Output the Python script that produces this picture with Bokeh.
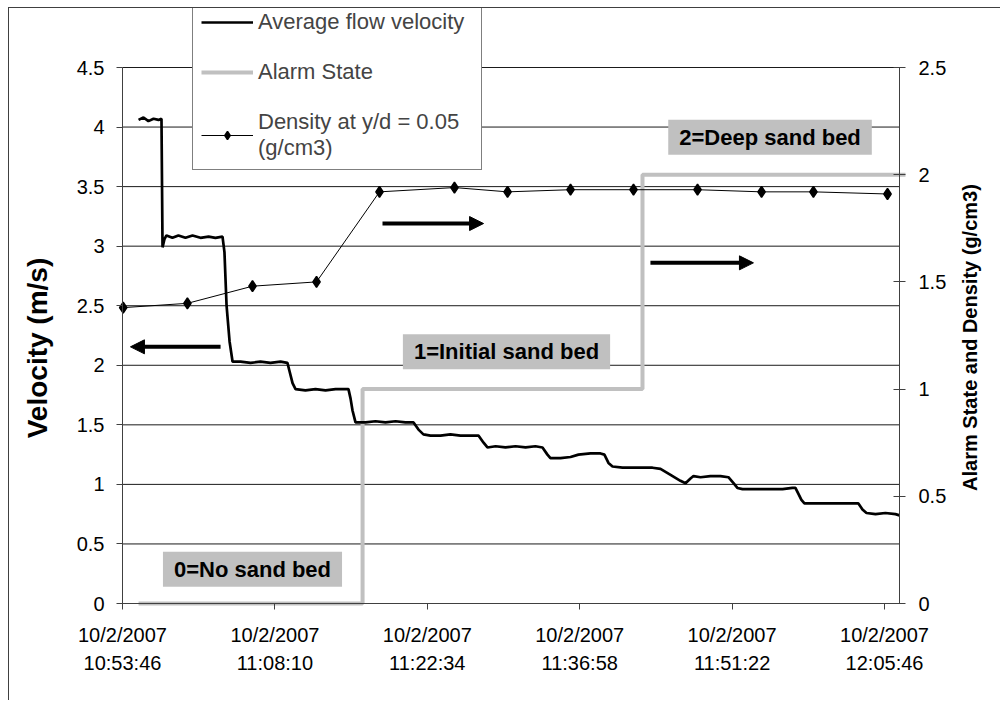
import math
from bokeh.plotting import figure
from bokeh.models import (Range1d, LinearAxis, FixedTicker, Legend, LegendItem,
                          Label, Arrow, NormalHead)
from bokeh.core.properties import value
from bokeh.embed import file_html
from bokeh.resources import INLINE

FONT = "Liberation Sans"

# x values: elapsed seconds since 10/2/2007 10:53:46
tick_seconds = [0, 864, 1728, 2592, 3456, 4320]
tick_labels = ["10/2/2007\n10:53:46", "10/2/2007\n11:08:10", "10/2/2007\n11:22:34",
               "10/2/2007\n11:36:58", "10/2/2007\n11:51:22", "10/2/2007\n12:05:46"]
x_axis_end = 4405

left_ticks = [0, 0.5, 1, 1.5, 2, 2.5, 3, 3.5, 4, 4.5]
left_labels = ["0", "0.5", "1", "1.5", "2", "2.5", "3", "3.5", "4", "4.5"]
right_ticks = [0, 0.5, 1, 1.5, 2, 2.5]
right_labels = ["0", "0.5", "1", "1.5", "2", "2.5"]

vel_t = [91, 119, 147, 176, 204, 221,
         227, 238, 249, 283, 317, 357, 397, 442, 488, 527, 567,
         578, 590, 607, 624,
         669, 726, 782, 839, 896, 935,
         947, 964, 981,
         1037, 1094, 1151, 1208, 1264, 1281,
         1293, 1304, 1321,
         1378, 1434, 1491, 1548, 1604, 1650,
         1678, 1706, 1746,
         1803, 1859, 1916, 1973, 2018,
         2047, 2069,
         2115, 2171, 2228, 2285, 2341, 2381,
         2409, 2426,
         2483, 2540, 2585, 2653, 2710, 2732,
         2755, 2778,
         2835, 2891, 2948, 3005, 3050,
         3107, 3163, 3192, 3220, 3237,
         3277, 3333, 3390, 3435,
         3464, 3486, 3515,
         3571, 3628, 3685, 3742, 3798, 3815,
         3832, 3849, 3866,
         3929, 3985, 4042, 4099, 4172,
         4195, 4218,
         4269, 4325, 4382, 4405]
vel_v = [4.06, 4.08, 4.05, 4.07, 4.06, 4.07,
         2.99, 3.06, 3.09, 3.07, 3.09, 3.07, 3.09, 3.07, 3.08, 3.07, 3.08,
         2.95, 2.50, 2.20, 2.03,
         2.03, 2.02, 2.03, 2.02, 2.03, 2.02,
         1.95, 1.85, 1.80,
         1.79, 1.80, 1.79, 1.80, 1.80, 1.80,
         1.72, 1.62, 1.52,
         1.52, 1.53, 1.52, 1.53, 1.52, 1.52,
         1.46, 1.42, 1.41,
         1.41, 1.42, 1.41, 1.41, 1.41,
         1.35, 1.31,
         1.32, 1.31, 1.32, 1.31, 1.32, 1.31,
         1.25, 1.22,
         1.22, 1.23, 1.25, 1.26, 1.26, 1.25,
         1.18, 1.15,
         1.14, 1.14, 1.14, 1.14, 1.13,
         1.08, 1.03, 1.01, 1.05, 1.07,
         1.06, 1.07, 1.07, 1.06,
         1.01, 0.97, 0.96,
         0.96, 0.96, 0.96, 0.96, 0.97, 0.97,
         0.92, 0.87, 0.84,
         0.84, 0.84, 0.84, 0.84, 0.84,
         0.79, 0.76,
         0.75, 0.76, 0.75, 0.74]

alarm_t = [91, 1361, 2948, 4439]
alarm_v = [0, 1, 2, 2]

dens_t = [4, 368, 737, 1100, 1457, 1882, 2183, 2540, 2897, 3260, 3623, 3917, 4337]
dens_v = [1.38, 1.40, 1.48, 1.50, 1.92, 1.94, 1.92, 1.93, 1.93, 1.93, 1.92, 1.92, 1.91]

state_labels = ["0=No sand bed", "1=Initial sand bed", "2=Deep sand bed"]
state_label_pos = [(737, 0.287), (2177, 2.114), (3671, 3.914)]
arrows = [(556, 2.155, 45, 2.155), (1474, 3.19, 2047, 3.19), (2993, 2.86, 3577, 2.86)]

left_title = "Velocity (m/s)"
right_title = "Alarm State and Density (g/cm3)"
left_title_pos = (-482, 2.145)
right_title_pos = (4802, 2.233)

AX = "#404040"

# layout geometry (pixels); the whole canvas is the plotting frame
W, H = 992, 693
AXIS_LEFT_PX = 113          # left axis distance from canvas left
AXIS_W_PX = 777             # width between left and right axes
AXIS_BOTTOM_PX = 595        # x axis distance from canvas top
PLOT_H_PX = 536             # height of the 0..4.5 span
sec_per_px = x_axis_end / AXIS_W_PX
x0 = -AXIS_LEFT_PX * sec_per_px
x1 = x0 + W * sec_per_px
px_left = PLOT_H_PX / 4.5
px_right = PLOT_H_PX / 2.5
yl0, yl1 = -(H - AXIS_BOTTOM_PX) / px_left, AXIS_BOTTOM_PX / px_left
yr0, yr1 = -(H - AXIS_BOTTOM_PX) / px_right, AXIS_BOTTOM_PX / px_right

p = figure(width=W, height=H, output_backend="svg", toolbar_location=None,
           x_range=Range1d(x0, x1), y_range=Range1d(yl0, yl1),
           min_border_left=0, min_border_right=0, min_border_top=0, min_border_bottom=0,
           background_fill_color="white", border_fill_color="white",
           outline_line_color=None)
p.styles = {"margin-left": "8px", "margin-top": "7px",
            "border-left": "1px solid #404040", "border-top": "1px solid #404040"}
p.extra_y_ranges = {"right": Range1d(yr0, yr1)}
p.xgrid.grid_line_color = None
p.ygrid.grid_line_color = None
p.xaxis.visible = False
p.yaxis.visible = False

# x axis at y = 0
xa = LinearAxis(fixed_location=0, bounds=(0, x_axis_end), ticker=FixedTicker(ticks=tick_seconds))
xa.major_label_overrides = dict(zip(tick_seconds, tick_labels))
xa.major_tick_out = 6
xa.major_tick_in = 0
xa.minor_tick_line_color = None
xa.axis_line_color = AX
xa.major_tick_line_color = AX
xa.major_label_text_font = FONT
xa.major_label_text_font_size = "20px"
xa.major_label_text_color = "black"
xa.major_label_text_line_height = 1.3
xa.major_label_standoff = 14
p.add_layout(xa, "below")

# left axis at x = 0
la = LinearAxis(fixed_location=0, bounds=(0, 4.5), ticker=FixedTicker(ticks=left_ticks))
la.major_label_overrides = dict(zip(left_ticks, left_labels))
la.major_tick_out = 6
la.major_tick_in = 0
la.minor_tick_line_color = None
la.axis_line_color = AX
la.major_tick_line_color = AX
la.major_label_text_font = FONT
la.major_label_text_font_size = "20px"
la.major_label_text_color = "black"
la.major_label_standoff = 12
p.add_layout(la, "left")

# right axis at the end of the time axis
ra = LinearAxis(y_range_name="right", fixed_location=x_axis_end, bounds=(0, 2.5),
                ticker=FixedTicker(ticks=right_ticks))
ra.major_label_overrides = dict(zip(right_ticks, right_labels))
ra.major_tick_out = 6
ra.major_tick_in = 6
ra.minor_tick_line_color = None
ra.axis_line_color = AX
ra.major_tick_line_color = AX
ra.major_label_text_font = FONT
ra.major_label_text_font_size = "20px"
ra.major_label_text_color = "black"
ra.major_label_standoff = 13
p.add_layout(ra, "right")

# horizontal gridlines between the two axes
p.segment(x0=[0] * len(left_ticks), x1=[x_axis_end] * len(left_ticks),
          y0=left_ticks, y1=left_ticks, line_color="#1a1a1a", line_width=1)

# axis titles, reading bottom to top
p.text(x=[left_title_pos[0]], y=[left_title_pos[1]], text=[left_title], angle=math.pi / 2,
       text_align="center", text_baseline="middle", text_font=value(FONT),
       text_font_size="28px", text_font_style="bold", text_color="black")
p.text(x=[right_title_pos[0]], y=[right_title_pos[1]], text=[right_title], angle=math.pi / 2,
       text_align="center", text_baseline="middle", text_font=value(FONT),
       text_font_size="20px", text_font_style="bold", text_color="black")

alarm = p.step(alarm_t, alarm_v, mode="after", line_color="#C0C0C0", line_width=4,
               y_range_name="right")
dl = p.line(dens_t, dens_v, line_color="black", line_width=1, y_range_name="right")
dm = p.scatter(dens_t, dens_v, marker="diamond", size=11, line_width=1.5,
               fill_color="black", line_color="black", y_range_name="right")
vel = p.line(vel_t, vel_v, line_color="black", line_width=2.7)

for txt, (lx, ly) in zip(state_labels, state_label_pos):
    p.add_layout(Label(x=lx, y=ly, text=txt, text_align="center", text_baseline="middle",
                       text_font=FONT, text_font_size="22px", text_font_style="bold",
                       text_color="black", background_fill_color="#C0C0C0",
                       padding=dict(left=11, right=11, top=5, bottom=5)))

for (ax0, ay0, ax1, ay1) in arrows:
    p.add_layout(Arrow(x_start=ax0, y_start=ay0, x_end=ax1, y_end=ay1, line_width=4,
                       line_color="black",
                       end=NormalHead(size=14, fill_color="black", line_color="black")))

legend = Legend(items=[LegendItem(label="Average flow velocity", renderers=[vel]),
                       LegendItem(label="Alarm State", renderers=[alarm]),
                       LegendItem(label="Density at y/d = 0.05\n(g/cm3)", renderers=[dl, dm])],
                location=(183, 531))
legend.border_line_color = "black"
legend.border_line_width = 1
legend.background_fill_color = "white"
legend.background_fill_alpha = 1
legend.label_text_font = FONT
legend.label_text_font_size = "22px"
legend.label_text_line_height = 1.45
legend.glyph_width = 52
legend.glyph_height = 20
legend.label_standoff = 5
legend.label_width = 215
legend.padding = 8
legend.spacing = 24
legend.margin = 0
p.add_layout(legend)

open("out.html", "w").write(file_html(p, INLINE))
